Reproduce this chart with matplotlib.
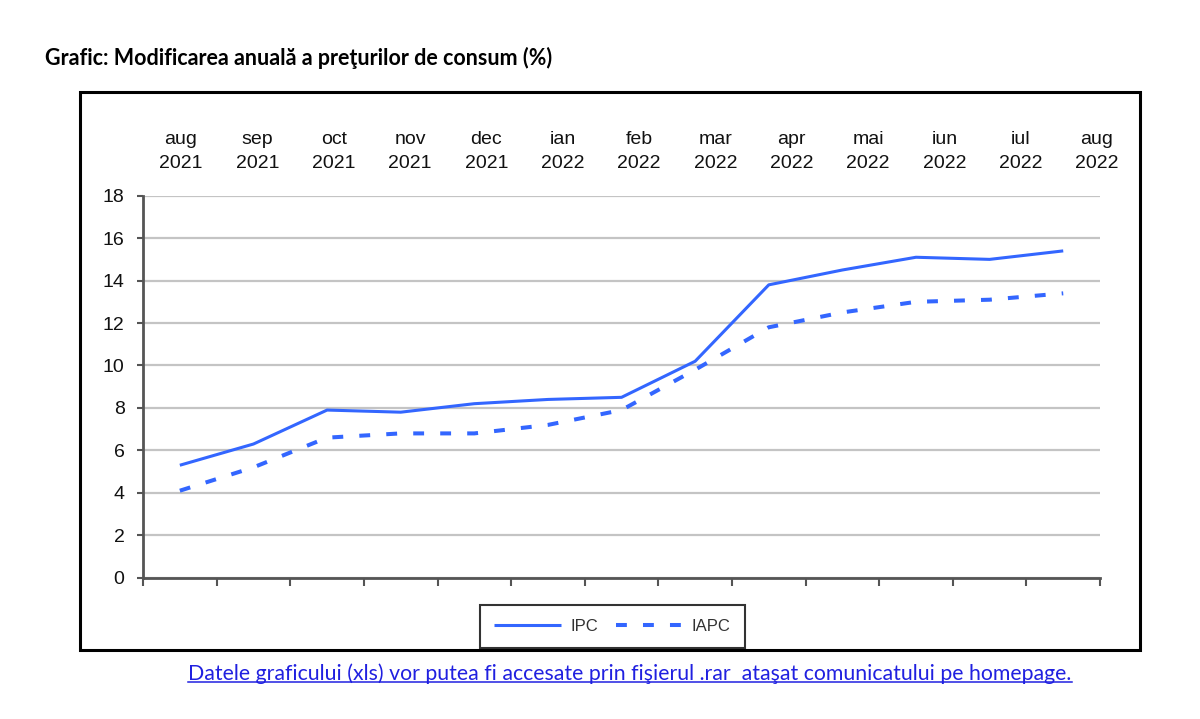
import numpy as np
import matplotlib.pyplot as plt
from matplotlib.patches import Rectangle
from matplotlib.lines import Line2D

# date
luni = ['aug\n2021', 'sep\n2021', 'oct\n2021', 'nov\n2021', 'dec\n2021', 'ian\n2022', 'feb\n2022',
        'mar\n2022', 'apr\n2022', 'mai\n2022', 'iun\n2022', 'iul\n2022', 'aug\n2022']
ipc = [5.3, 6.3, 7.9, 7.8, 8.2, 8.4, 8.5, 10.2, 13.8, 14.5, 15.1, 15.0, 15.4]
iapc = [4.1, 5.2, 6.6, 6.8, 6.8, 7.2, 7.9, 9.8, 11.8, 12.5, 13.0, 13.1, 13.4]
y_ticks = [0, 2, 4, 6, 8, 10, 12, 14, 16, 18]

titlu = 'Grafic: Modificarea anuală a preţurilor de consum (%)'
subsol = 'Datele graficului (xls) vor putea fi accesate prin fişierul .rar  ataşat comunicatului pe homepage.'

plt.rcParams['font.family'] = ['Liberation Sans', 'DejaVu Sans']
albastru = '#3366ff'
fig = plt.figure(figsize=(12, 7.19), dpi=100)

# chenarul negru in jurul graficului
fig.patches.append(Rectangle((0.0667, 0.096), 0.883, 0.776, transform=fig.transFigure,
                             fill=False, edgecolor='black', linewidth=2.2))

ax = fig.add_axes([0.1192, 0.1965, 0.7975, 0.5313])
x = np.arange(len(luni))
ax.plot(x, ipc, color=albastru, lw=2.2, label='IPC', solid_capstyle='butt')
ax.plot(x, iapc, color=albastru, lw=2.9, linestyle=(0, (2.7, 4.0)), label='IAPC')

ax.set_xlim(-0.5, len(luni) - 0.5)
ax.set_ylim(0, 18)
ax.set_yticks(y_ticks)
ax.set_xticks(np.arange(len(luni) + 1) - 0.5)
ax.set_xticklabels([])
ax.yaxis.grid(True, color='#c4c4c4', lw=1.6)
ax.set_axisbelow(True)
for s in ['top', 'right']:
    ax.spines[s].set_visible(False)
for s in ['left', 'bottom']:
    ax.spines[s].set_color('#555555')
    ax.spines[s].set_linewidth(2)
ax.tick_params(axis='y', length=4.3, width=1.5, color='#555555', labelsize=14,
               labelcolor='#111111', pad=9)
ax.tick_params(axis='x', length=6, width=1.5, color='#555555')

# etichetele lunilor sus
ax2 = ax.twiny()
ax2.set_xlim(-0.498, 12.04)
ax2.set_xticks(x)
ax2.set_xticklabels(luni, fontsize=14, color='#111111', linespacing=1.55)
ax2.tick_params(axis='x', length=0, pad=17)
for s in ax2.spines.values():
    s.set_visible(False)

leg = ax.legend(loc='center', bbox_to_anchor=(0.5104, 0.1287), bbox_transform=fig.transFigure,
                ncol=2, fontsize=12, frameon=True, fancybox=False, handlelength=4.0,
                columnspacing=1.1, handletextpad=0.55, borderpad=0.85, borderaxespad=0)
leg.get_frame().set_edgecolor('black')
leg.get_frame().set_linewidth(1.5)
for t in leg.get_texts():
    t.set_color('#333333')

fig.text(0.0375, 0.92, titlu, fontsize=15.5, fontweight='bold', family='Lato', va='center')

t = fig.text(0.525, 0.063, subsol, fontsize=15.3, color='#2020e0', family='Lato',
             ha='center', va='center')
fig.canvas.draw()
bb = t.get_window_extent().transformed(fig.transFigure.inverted())
fig.lines.append(Line2D([bb.x0, bb.x1], [bb.y0 + 0.003, bb.y0 + 0.003], transform=fig.transFigure,
                        color='#2020e0', lw=1.1))

fig.savefig('out.png', dpi=100)
